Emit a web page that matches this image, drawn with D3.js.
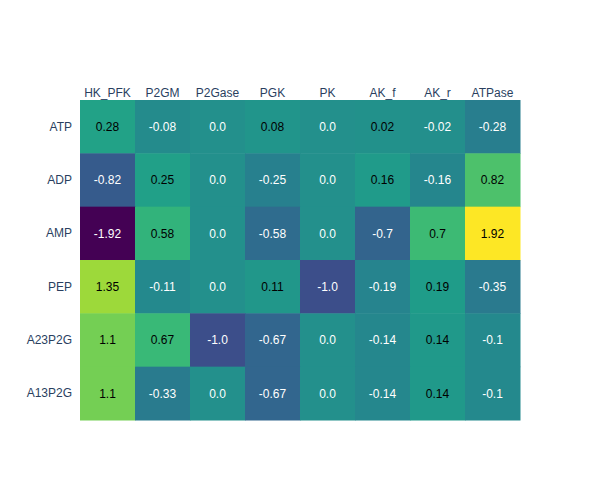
<!DOCTYPE html>
<html><head><meta charset="utf-8">
<script src="https://cdn.jsdelivr.net/npm/d3@7"></script>
<style>body{margin:0;background:#fff}</style>
</head><body><div id="chart"></div>
<script>
const columns = ["HK_PFK","P2GM","P2Gase","PGK","PK","AK_f","AK_r","ATPase"];
const rows = ["ATP","ADP","AMP","PEP","A23P2G","A13P2G"];
const ATP    = [0.28,-0.08,0.0,0.08,0.0,0.02,-0.02,-0.28];
const ADP    = [-0.82,0.25,0.0,-0.25,0.0,0.16,-0.16,0.82];
const AMP    = [-1.92,0.58,0.0,-0.58,0.0,-0.7,0.7,1.92];
const PEP    = [1.35,-0.11,0.0,0.11,-1.0,-0.19,0.19,-0.35];
const A23P2G = [1.1,0.67,-1.0,-0.67,0.0,-0.14,0.14,-0.1];
const A13P2G = [1.1,-0.33,0.0,-0.67,0.0,-0.14,0.14,-0.1];
const values = [ATP,ADP,AMP,PEP,A23P2G,A13P2G];

const FONT="'Liberation Sans', Arial, sans-serif";
const W=600,H=500,m={l:80,r:80,t:100,b:80};
const svg=d3.select("#chart").append("svg").attr("width",W).attr("height",H)
  .style("font-family",FONT);
const x=d3.scaleBand().domain(columns).range([m.l,W-m.r]);
const y=d3.scaleBand().domain(rows).range([m.t,H-m.b]);
const viridis=["#440154","#482878","#3e4989","#31688e","#26828e","#1f9e89","#35b779","#6ece58","#b5de2b","#fde725"];
const all=values.flat();
const zmin=d3.min(all), zmax=d3.max(all);
const color=d3.scaleLinear().domain(d3.range(viridis.length).map(i=>zmin+(zmax-zmin)*i/(viridis.length-1))).range(viridis).interpolate(d3.interpolateRgb);
const cells=[];
rows.forEach((r,i)=>columns.forEach((c,j)=>cells.push({r,c,v:values[i][j]})));
const fmt=v=>Number.isInteger(v)?v.toFixed(1):String(v);
svg.append("g").selectAll("rect").data(cells).join("rect")
  .attr("x",d=>x(d.c)).attr("y",d=>y(d.r))
  .attr("width",x.bandwidth()+0.5).attr("height",y.bandwidth()+0.5)
  .attr("fill",d=>color(d.v));
svg.append("g").selectAll("text").data(cells).join("text")
  .attr("x",d=>x(d.c)+x.bandwidth()/2).attr("y",d=>y(d.r)+y.bandwidth()/2)
  .attr("dy","0.35em").attr("text-anchor","middle").attr("font-size",12)
  .attr("fill",d=>d.v>0?"#000":"#fff").text(d=>fmt(d.v));
const xa=svg.append("g").attr("transform",`translate(0,${m.t})`).call(d3.axisTop(x).tickSize(0).tickPadding(3));
const ya=svg.append("g").attr("transform",`translate(${m.l},0)`).call(d3.axisLeft(y).tickSize(0).tickPadding(8));
[xa,ya].forEach(a=>{a.select(".domain").remove();a.selectAll("text").attr("font-size",12).attr("fill","#2a3f5f").style("font-family",FONT);});
</script></body></html>
